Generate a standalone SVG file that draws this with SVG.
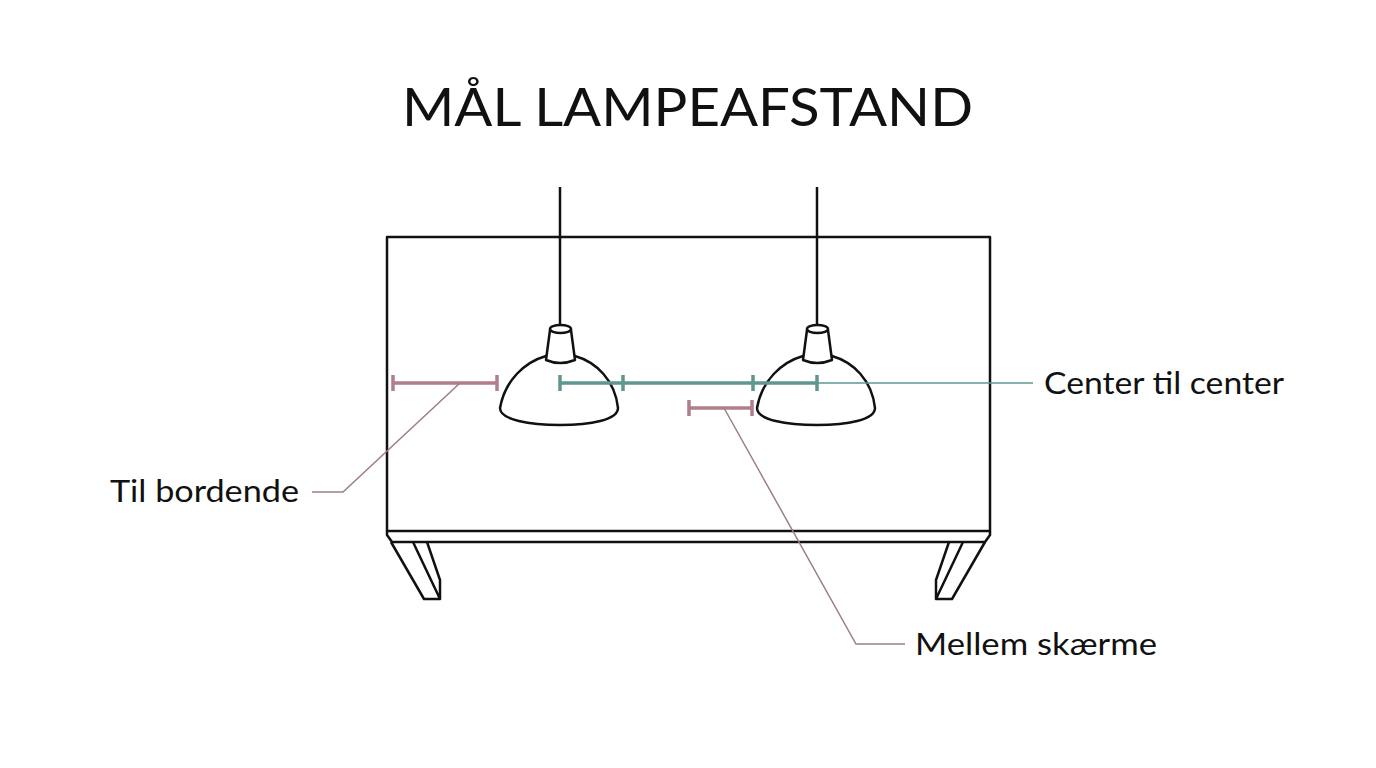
<svg xmlns="http://www.w3.org/2000/svg" width="1376" height="768" viewBox="0 0 1376 768">
<style>
.k{fill:none;stroke:#111;stroke-width:2.5;stroke-linejoin:round}
.s{fill:#fff;stroke:#111;stroke-width:2.5;stroke-linejoin:round}
.p{stroke:#b07f8a;stroke-width:3.5;fill:none}
.t{stroke:#5e9790;stroke-width:3.5;fill:none}
.pl{stroke:#9c7e86;stroke-width:1.5;fill:none}
.tl{stroke:#5e9790;stroke-width:1.5;fill:none}
text{font-family:Lato,"Noto Sans",sans-serif;fill:#111}
</style>
<rect width="1376" height="768" fill="#fff"/>
<text x="402" y="126" font-size="52" textLength="571" lengthAdjust="spacingAndGlyphs">MÅL LAMPEAFSTAND</text>
<g id="table">
<rect class="k" x="387" y="237" width="603" height="294"/>
<path class="k" d="M387 531 L387 535 L392 542 L985 542 L990 535 L990 531"/>
<path class="k" d="M391 542 L424 599 L440 599 L440 580 L427 542 M413 542 L440 599"/>
<path class="k" d="M985 542 L952 599 L936 599 L936 580 L949 542 M963 542 L936 599"/>
</g>
<g id="lamp1">
<line class="k" x1="560" y1="187" x2="560" y2="328"/>
<path class="s" d="M500 408 C505 380 525 362 546 356 L575 356 C596 362 615 380 618 408 C618 420 590 425 560 425 C530 425 500 420 500 408 Z"/>
<path class="s" d="M546 360 L550 330 L571 330 L575 360 Q560 366 546 360 Z"/>
<ellipse class="s" cx="560.5" cy="329" rx="10.5" ry="4"/>
</g>
<g id="lamp2">
<line class="k" x1="817" y1="187" x2="817" y2="328"/>
<path class="s" d="M757 408 C762 380 782 362 803 356 L832 356 C853 362 872 380 875 408 C875 420 847 425 817 425 C787 425 757 420 757 408 Z"/>
<path class="s" d="M803 360 L807 330 L828 330 L832 360 Q817 366 803 360 Z"/>
<ellipse class="s" cx="817.5" cy="329" rx="10.5" ry="4"/>
</g>
<g id="connectors">
<path class="p" d="M393 383 H497 M393 375 V391 M497 375 V391"/>
<path class="p" d="M689 408 H752 M689 400 V416 M752 400 V416"/>
<path class="t" d="M560 383 H817 M560 375 V391 M623 375 V391 M753 375 V391 M817 375 V391"/>
<path class="tl" d="M817 383 H1033"/>
<path class="pl" d="M460 383 L343 492 H312"/>
<path class="pl" d="M724 408 L856 644 H905"/>
</g>
<text x="1044" y="394" font-size="30" textLength="240" lengthAdjust="spacingAndGlyphs">Center til center</text>
<text x="110" y="502" font-size="30" textLength="189" lengthAdjust="spacingAndGlyphs">Til bordende</text>
<text x="915" y="655" font-size="30" textLength="242" lengthAdjust="spacingAndGlyphs">Mellem skærme</text>
</svg>
